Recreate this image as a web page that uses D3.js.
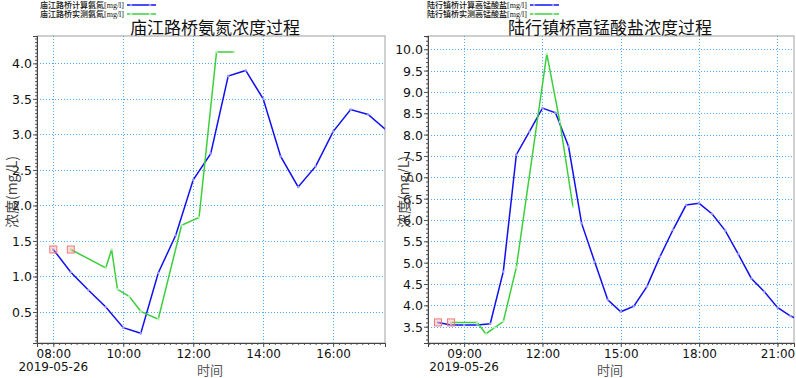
<!DOCTYPE html>
<html>
<head>
<meta charset="utf-8">
<script src="https://cdnjs.cloudflare.com/ajax/libs/d3/7.8.5/d3.min.js"></script>
<style>
  body { margin: 0; background: #fff; }
  svg { display: block; }
  text { font-family: "DejaVu Sans", sans-serif; }
  .cjk { font-family: "Noto Sans CJK SC", sans-serif; }
  .cjk-tight { font-family: "Liberation Serif", "Noto Sans CJK SC", serif; }
</style>
</head>
<body>
<svg width="796" height="378"></svg>
<script>
// ---- data: 庙江路桥 氨氮 ----
var day = "2019-05-26";
var mjCalcTimes = ["08:00","08:30","09:00","09:30","10:00","10:30","11:00","11:30","12:00","12:30",
                   "13:00","13:30","14:00","14:30","15:00","15:30","16:00","16:30","17:00","17:30"];
var mjCalcValues = [1.38,1.06,0.81,0.57,0.28,0.20,1.05,1.58,2.36,2.73,
                    3.82,3.90,3.50,2.69,2.26,2.55,3.04,3.35,3.28,3.07];
var mjObsTimes = ["08:30","09:30","09:40","09:50","10:10","10:30","11:00","11:40","12:10","12:40","13:10"];
var mjObsValues = [1.38,1.12,1.38,0.82,0.72,0.51,0.40,1.72,1.83,4.16,4.16];
var mjYTicks = [0.5,1.0,1.5,2.0,2.5,3.0,3.5,4.0];
var mjXDomain = ["07:32","17:29"];
var mjYDomain = [0.064,4.385];

// ---- data: 陆行镇桥 高锰酸盐 ----
var lxCalcTimes = ["08:00","08:30","09:00","09:30","10:00","10:30","11:00","11:30","12:00","12:30",
                   "13:00","13:30","14:00","14:30","15:00","15:30","16:00","16:30","17:00","17:30",
                   "18:00","18:30","19:00","19:30","20:00","20:30","21:00","21:30","22:00"];
var lxCalcValues = [3.60,3.54,3.54,3.54,3.57,4.79,7.53,8.07,8.62,8.51,
                    7.72,5.92,5.02,4.13,3.85,3.98,4.44,5.14,5.77,6.35,
                    6.39,6.14,5.75,5.20,4.63,4.32,3.95,3.75,3.62];
var lxObsTimes = ["08:30","09:30","09:50","10:10","10:30","11:00","12:10","12:40","13:10"];
var lxObsValues = [3.60,3.60,3.33,3.48,3.62,4.89,9.89,8.30,6.31];
var lxYTicks = [3.5,4.0,4.5,5.0,5.5,6.0,6.5,7.0,7.5,8.0,8.5,9.0,9.5,10.0];
var lxXDomain = ["07:37","21:38"];
var lxYDomain = [3.118,10.31];

var parseTime = d3.timeParse("%Y-%m-%d %H:%M");
var fmt = d3.timeFormat("%H:%M");
function toRows(times, values) {
  return times.map(function(t, i) { return {date: parseTime(day + " " + t), value: values[i]}; });
}

var svg = d3.select("svg");

function drawChart(cfg) {
  var box = cfg.box;
  var g = svg.append("g");

  var x = d3.scaleTime()
      .domain(cfg.xDomain.map(function(t) { return parseTime(day + " " + t); }))
      .range([box.left, box.right]);
  var y = d3.scaleLinear()
      .domain(cfg.yDomain)
      .range([box.bottom, box.top]);

  var clipId = "clip-" + cfg.id;
  svg.append("clipPath").attr("id", clipId)
    .append("rect")
    .attr("x", box.left).attr("y", box.top)
    .attr("width", box.right - box.left).attr("height", box.bottom - box.top);

  // frame
  g.append("rect")
    .attr("x", box.left).attr("y", box.top)
    .attr("width", box.right - box.left).attr("height", box.bottom - box.top)
    .attr("fill", "none").attr("stroke", "#a0a0a0");

  var xTicks = x.ticks(cfg.xEvery);

  // grid
  g.selectAll(".vgrid").data(xTicks).enter().append("line")
    .attr("x1", function(d) { return Math.round(x(d)) + 0.5; })
    .attr("x2", function(d) { return Math.round(x(d)) + 0.5; })
    .attr("y1", box.top).attr("y2", box.bottom)
    .attr("stroke", "#55a8f5").attr("stroke-dasharray", "1,2");
  g.selectAll(".hgrid").data(cfg.yTicks).enter().append("line")
    .attr("y1", function(d) { return Math.round(y(d)) + 0.5; })
    .attr("y2", function(d) { return Math.round(y(d)) + 0.5; })
    .attr("x1", box.left).attr("x2", box.right)
    .attr("stroke", "#55a8f5").attr("stroke-dasharray", "1,2");

  // axes
  var xAxis = d3.axisBottom(x).tickValues(xTicks).tickFormat(fmt).tickSize(4).tickPadding(2);
  var xMinor = d3.axisBottom(x).ticks(d3.timeMinute.every(10)).tickFormat("").tickSize(2);
  var yAxis = d3.axisLeft(y).tickValues(cfg.yTicks).tickFormat(d3.format(".1f")).tickSize(4).tickPadding(1);
  var yMinor = d3.axisLeft(y).tickValues(d3.range(Math.ceil(cfg.yDomain[0] / cfg.yMinorStep) * cfg.yMinorStep,
      cfg.yDomain[1], cfg.yMinorStep)).tickFormat("").tickSize(2);

  var gxm = g.append("g").attr("transform", "translate(0," + box.bottom + ")").call(xMinor);
  var gym = g.append("g").attr("transform", "translate(" + box.left + ",0)").call(yMinor);
  var gx = g.append("g").attr("transform", "translate(0," + box.bottom + ")").call(xAxis);
  var gy = g.append("g").attr("transform", "translate(" + box.left + ",0)").call(yAxis);
  [gxm, gym, gx, gy].forEach(function(a) {
    a.select(".domain").attr("stroke", "#444");
    a.selectAll(".tick line").attr("stroke", "#555");
  });
  gx.selectAll(".tick text").attr("font-size", 12).attr("fill", "#111")
    .attr("font-family", "DejaVu Sans");
  gy.selectAll(".tick text").attr("font-size", 12.5).attr("fill", "#111")
    .attr("font-family", "DejaVu Sans").attr("dy", "0.36em");

  // date under first tick
  g.append("text")
    .attr("x", x(xTicks[0])).attr("y", 367).attr("dy", "0.36em")
    .attr("text-anchor", "middle").attr("font-size", 12).attr("fill", "#111")
    .text(day);

  // axis titles
  g.append("text").attr("class", "cjk")
    .attr("x", (box.left + box.right) / 2 + cfg.xTitleShift).attr("y", 370).attr("dy", "0.35em")
    .attr("text-anchor", "middle").attr("font-size", 13).attr("fill", "#555")
    .text("时间");
  g.append("text").attr("class", "cjk")
    .attr("transform", "translate(" + cfg.yTitleX + ",192) rotate(-90)")
    .attr("text-anchor", "middle").attr("dy", "0.35em").attr("font-size", 14).attr("fill", "#444")
    .text("浓度(mg/L)");

  // chart title
  g.append("text").attr("class", "cjk-tight")
    .attr("x", cfg.titleX).attr("y", 28)
    .attr("text-anchor", "middle").attr("dy", "0.35em")
    .attr("font-size", 17).attr("fill", "#111")
    .text(cfg.title);

  var line = d3.line()
      .x(function(d) { return x(d.date); })
      .y(function(d) { return y(d.value); });

  var plot = g.append("g").attr("clip-path", "url(#" + clipId + ")");
  cfg.series.forEach(function(s) {
    plot.append("path").datum(s.rows)
      .attr("fill", "none").attr("stroke", s.color).attr("stroke-width", 1.5)
      .attr("d", line);
    plot.selectAll(null).data(s.rows).enter().append("circle")
      .attr("cx", function(d) { return x(d.date); })
      .attr("cy", function(d) { return y(d.value); })
      .attr("r", 1.3)
      .attr("fill", s.light).attr("stroke", "none");
    // start marker
    var first = s.rows[0];
    plot.append("rect")
      .attr("x", x(first.date) - 3.5).attr("y", y(first.value) - 3.5)
      .attr("width", 7).attr("height", 7)
      .attr("fill", "rgba(255,160,160,0.35)").attr("stroke", "#f07878").attr("stroke-width", 1);
  });

  // legend
  var lg = svg.append("g");
  cfg.series.forEach(function(s, i) {
    var ly = 5 + i * 9;
    lg.append("text").attr("class", "cjk-tight")
      .attr("x", cfg.legendX).attr("y", ly).attr("dy", "0.35em")
      .attr("text-anchor", "end").attr("font-size", 8).attr("font-weight", 500).attr("fill", "#111")
      .text(s.name);
    lg.append("line")
      .attr("x1", cfg.legendX + 3).attr("x2", cfg.legendX + 32)
      .attr("y1", ly).attr("y2", ly)
      .attr("stroke", s.color).attr("stroke-width", 1.5);
    [cfg.legendX + 7, cfg.legendX + 26].forEach(function(cx) {
      lg.append("circle").attr("cx", cx).attr("cy", ly).attr("r", 1.3).attr("fill", s.light);
    });
  });
}

drawChart({
  id: "mj",
  box: {left: 37, right: 385, top: 36, bottom: 343},
  xDomain: mjXDomain, yDomain: mjYDomain,
  xEvery: d3.timeHour.every(2), yTicks: mjYTicks, yMinorStep: 0.05,
  title: "庙江路桥氨氮浓度过程", titleX: 215,
  xTitleShift: -1, yTitleX: 12,
  legendX: 124,
  series: [
    {name: "庙江路桥计算氨氮[mg/l]", color: "#1010f0", light: "#9a9aff", rows: toRows(mjCalcTimes, mjCalcValues)},
    {name: "庙江路桥实测氨氮[mg/l]", color: "#3ccf3c", light: "#b8f0b8", rows: toRows(mjObsTimes, mjObsValues)}
  ]
});

drawChart({
  id: "lx",
  box: {left: 428, right: 794, top: 36, bottom: 343},
  xDomain: lxXDomain, yDomain: lxYDomain,
  xEvery: d3.timeHour.every(3), yTicks: lxYTicks, yMinorStep: 0.1,
  title: "陆行镇桥高锰酸盐浓度过程", titleX: 610,
  xTitleShift: -1, yTitleX: 404,
  legendX: 527,
  series: [
    {name: "陆行镇桥计算高锰酸盐[mg/l]", color: "#1010f0", light: "#9a9aff", rows: toRows(lxCalcTimes, lxCalcValues)},
    {name: "陆行镇桥实测高锰酸盐[mg/l]", color: "#3ccf3c", light: "#b8f0b8", rows: toRows(lxObsTimes, lxObsValues)}
  ]
});
</script>
</body>
</html>
